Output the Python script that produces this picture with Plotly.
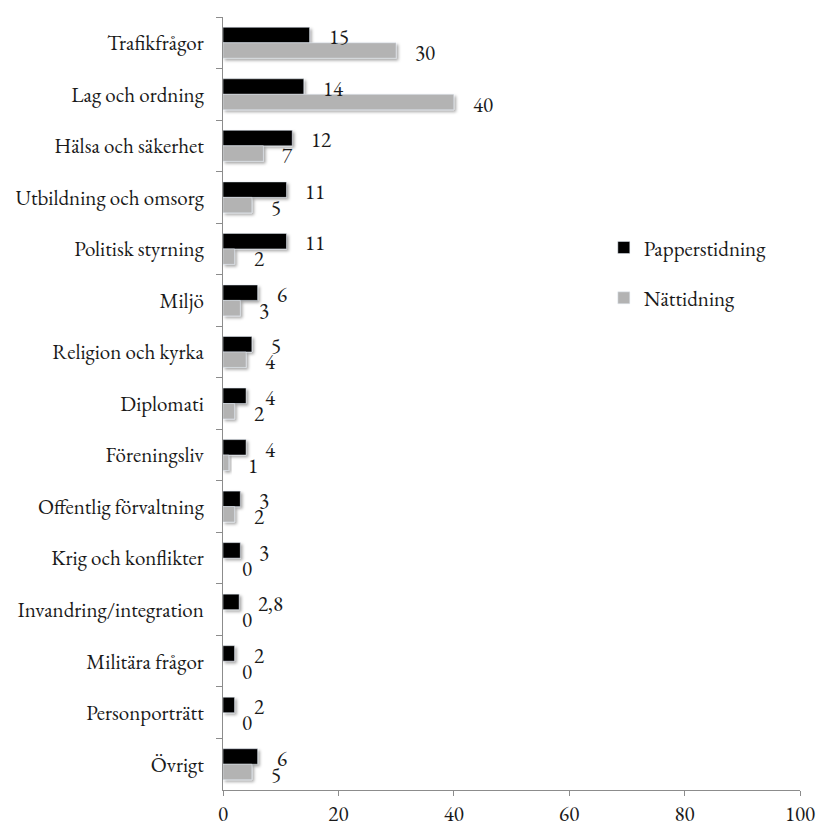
import plotly.graph_objects as go

# Ämnen i ordning uppifrån och ned
categories = [
    "Trafikfrågor", "Lag och ordning", "Hälsa och säkerhet", "Utbildning och omsorg",
    "Politisk styrning", "Miljö", "Religion och kyrka", "Diplomati", "Föreningsliv",
    "Offentlig förvaltning", "Krig och konflikter", "Invandring/integration",
    "Militära frågor", "Personporträtt", "Övrigt",
]
papper = [15, 14, 12, 11, 11, 6, 5, 4, 4, 3, 3, 2.8, 2, 2, 6]
natt = [30, 40, 7, 5, 2, 3, 4, 2, 1, 2, 0, 0, 0, 0, 5]
x_ticks = [0, 20, 40, 60, 80, 100]

FONT = "EB Garamond"
SIZE = 21
BLACK = "#000000"
GREY = "#b3b3b3"
AXIS = "#8c8c8c"
TEXT = "#1a1a1a"


def fmt(v):
    s = f"{v:g}"
    return s.replace(".", ",")


fig = go.Figure()
fig.add_trace(go.Bar(y=categories, x=papper, orientation="h", name="Papperstidning",
                     marker=dict(color=BLACK), legendgroup="a"))
fig.add_trace(go.Bar(y=categories, x=natt, orientation="h", name="Nättidning",
                     marker=dict(color=GREY), legendgroup="b"))

annotations = []
for cat, p, n in zip(categories, papper, natt):
    annotations.append(dict(x=p, y=cat, text=fmt(p), xanchor="left", yanchor="middle",
                            xshift=17, yshift=6, showarrow=False,
                            font=dict(family=FONT, size=SIZE, color=TEXT)))
    annotations.append(dict(x=n, y=cat, text=fmt(n), xanchor="left", yanchor="middle",
                            xshift=17, yshift=-10, showarrow=False,
                            font=dict(family=FONT, size=SIZE, color=TEXT)))

fig.update_layout(
    width=821, height=826,
    margin=dict(l=223, r=21, t=17, b=36),
    paper_bgcolor="white", plot_bgcolor="white",
    barmode="group", bargap=0.4, bargroupgap=0,
    font=dict(family=FONT, size=SIZE, color=TEXT),
    showlegend=True,
    legend=dict(x=0.66, y=0.669, xanchor="left", yanchor="middle",
                traceorder="grouped", tracegroupgap=20, itemwidth=30,
                font=dict(family=FONT, size=SIZE, color=TEXT),
                bgcolor="rgba(0,0,0,0)"),
    annotations=annotations,
    xaxis=dict(range=[0, 100], tickvals=x_ticks, ticks="outside", ticklen=5,
               tickcolor=AXIS, showline=True, linecolor=AXIS, linewidth=1,
               showgrid=False, zeroline=False, ticklabelstandoff=0, automargin=False,
               tickfont=dict(family=FONT, size=SIZE, color=TEXT)),
    yaxis=dict(autorange="reversed", categoryorder="array", categoryarray=categories,
               ticks="outside", tickson="boundaries", ticklen=6, tickcolor=AXIS,
               showline=True, linecolor=AXIS, linewidth=1, showgrid=False, automargin=False,
               ticklabelstandoff=14, tickfont=dict(family=FONT, size=SIZE, color=TEXT)),
)

# Soft drop shadow on the bars
shadow_js = """
var svg = document.querySelector('.main-svg');
var ns = 'http://www.w3.org/2000/svg';
var defs = svg.querySelector('defs') || svg.insertBefore(document.createElementNS(ns,'defs'), svg.firstChild);
var f = document.createElementNS(ns, 'filter');
f.setAttribute('id', 'barshadow');
f.setAttribute('x', '-20%'); f.setAttribute('y', '-50%');
f.setAttribute('width', '160%'); f.setAttribute('height', '220%');
var d = document.createElementNS(ns, 'feDropShadow');
d.setAttribute('dx', '2'); d.setAttribute('dy', '2'); d.setAttribute('stdDeviation', '1.5');
d.setAttribute('flood-color', '#000'); d.setAttribute('flood-opacity', '0.35');
f.appendChild(d); defs.appendChild(f);
document.querySelectorAll('.barlayer .point path').forEach(function(p){
  p.setAttribute('filter', 'url(#barshadow)');
});
"""

fig.write_html("out.html", post_script=shadow_js)
